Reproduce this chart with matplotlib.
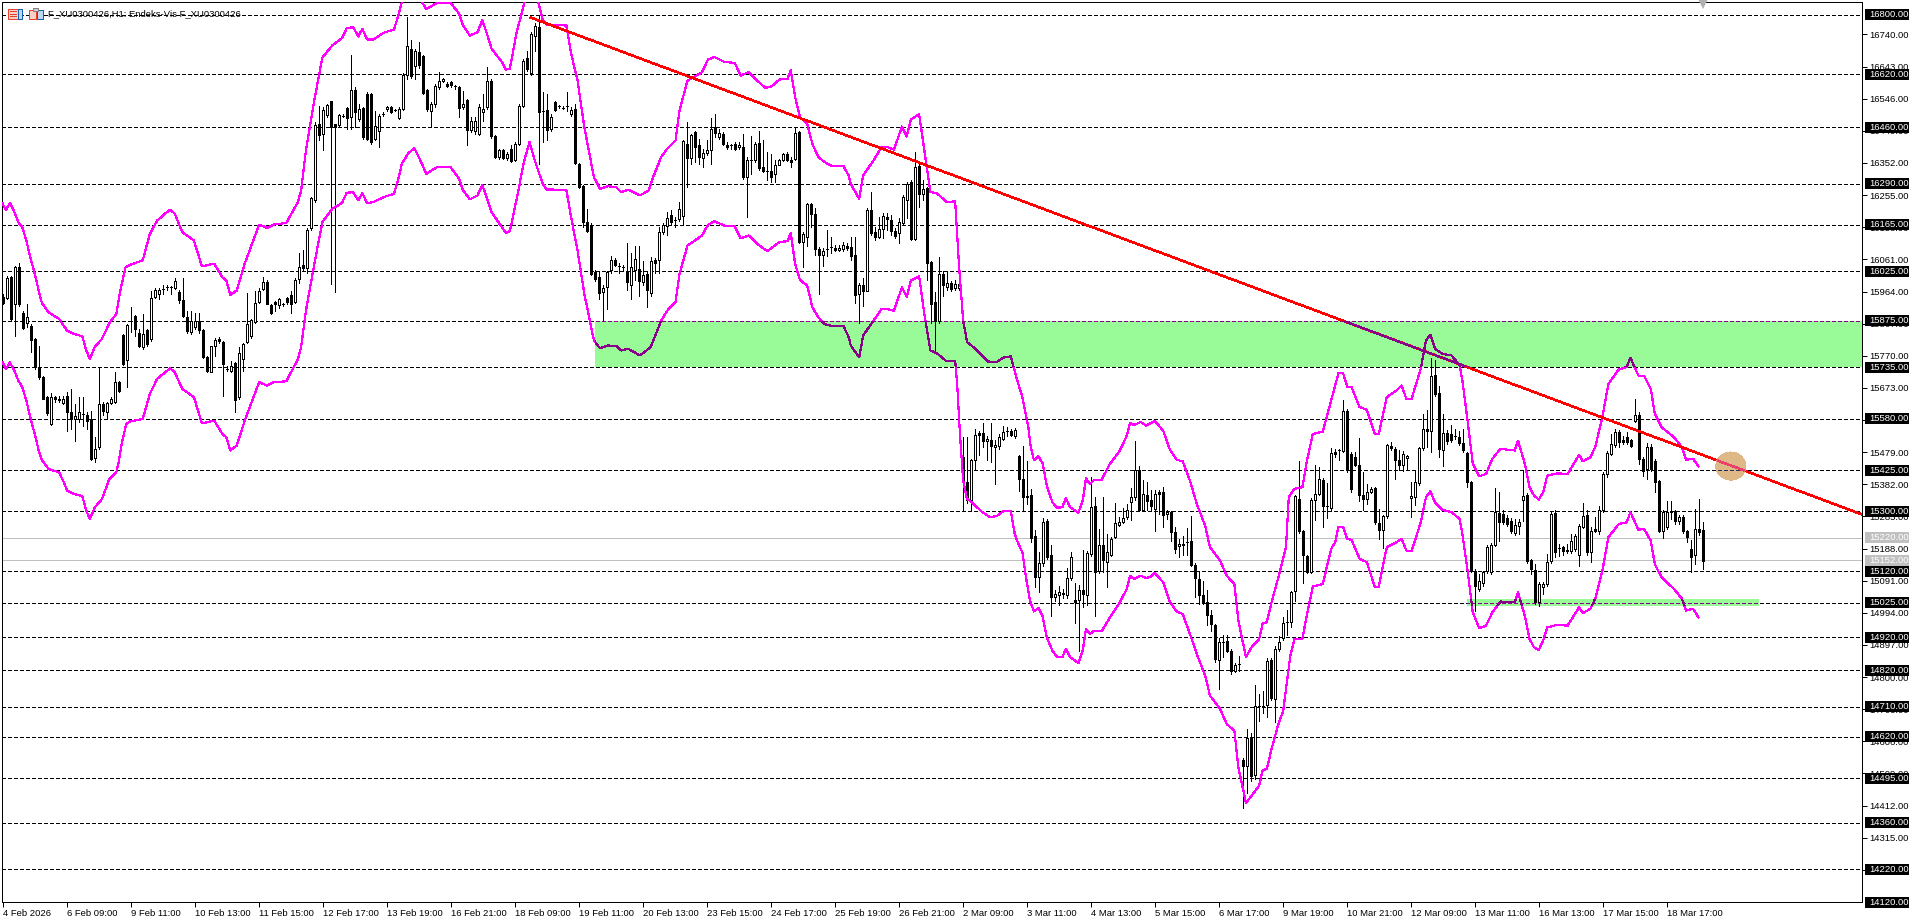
import numpy as np
import matplotlib
matplotlib.use("Agg")
import matplotlib.pyplot as plt
from matplotlib.patches import Rectangle, Ellipse
from matplotlib.transforms import blended_transform_factory

plt.rcParams['font.family'] = ['Liberation Sans', 'DejaVu Sans']

# hourly candles, F_XU0300426 H1
opens = [
    15947,15945,16007,15925,16037,15899,15868,15861,15821,15737,
    15707,15645,15564,15645,15640,15627,15650,15599,15579,15579,
    15594,15591,15579,15461,15494,15625,15601,15628,15630,15692,
    15833,15757,15876,15889,15839,15796,15848,15821,15947,15957,
    15972,15979,15977,15975,15962,15939,15888,15841,15858,15876,
    15848,15767,15721,15799,15821,15813,15730,15725,15747,15647,
    15760,15811,15831,15871,15932,15972,15994,15922,15932,15922,
    15925,15944,15952,15932,16002,16044,16035,16156,16239,16470,
    16440,16496,16538,16470,16467,16495,16519,16491,16571,16485,
    16519,16561,16559,16425,16448,16499,16515,16521,16511,16489,
    16516,16619,16697,16645,16687,16674,16571,16508,16531,16581,
    16598,16591,16596,16583,16581,16521,16541,16452,16448,16438,
    16506,16521,16601,16432,16370,16390,16368,16395,16362,16410,
    16524,16670,16623,16734,16764,16508,16511,16455,16536,16523,
    16519,16523,16499,16516,16350,16281,16173,16166,16022,16007,
    15961,15977,16029,16060,16040,16037,16022,15985,16030,16032,
    15992,16017,15959,16060,16058,16143,16163,16194,16180,16183,
    16193,16410,16368,16445,16405,16368,16382,16390,16460,16430,
    16440,16407,16405,16408,16400,16400,16311,16362,16360,16413,
    16341,16329,16329,16319,16347,16362,16380,16362,16365,16445,
    16113,16130,16227,16198,16093,16073,16093,16098,16096,16088,
    16093,16101,16098,16073,15955,15984,15967,16211,16143,16130,
    16153,16188,16180,16148,16141,16170,16239,16294,16121,16342,
    16259,16276,16052,15932,15876,16017,15979,15989,15974,15975,
    15464,15390,15335,15456,15536,15537,15513,15516,15494,15497,
    15519,15543,15543,15529,15466,15398,15347,15350,15227,15101,
    15145,15272,15169,15041,15049,15054,15048,15098,15033,15033,
    15063,15048,15172,15315,15121,15199,15147,15169,15224,15259,
    15269,15283,15330,15343,15426,15303,15350,15335,15308,15358,
    15360,15293,15298,15239,15196,15201,15208,15212,15139,15096,
    15048,15026,14987,14957,14852,14906,14910,14878,14819,14839,
    14549,14532,14618,14504,14714,14714,14717,14850,14734,14885,
    14918,14965,14965,15059,15338,15240,15165,15118,15336,15353,
    15395,15315,15310,15479,15484,15481,15602,15474,15464,15441,
    15350,15338,15358,15371,15265,15244,15285,15499,15489,15456,
    15441,15461,15340,15345,15385,15491,15549,15544,15713,15658,
    15487,15538,15534,15529,15526,15506,15477,15388,15119,15066,
    15083,15119,15118,15199,15296,15293,15280,15272,15235,15255,
    15335,15350,15152,15123,15026,15073,15081,15150,15295,15190,
    15192,15184,15180,15187,15167,15254,15290,15179,15247,15240,
    15303,15413,15474,15501,15539,15516,15524,15516,15574,15590,
    15459,15428,15496,15452,15391,15242,15252,15298,15300,15270,
    15284,15242,15187,15170,15247,15244]
closes = [
    15929,16005,15880,16037,15925,15853,15886,15818,15737,15705,
    15640,15596,15645,15640,15637,15640,15599,15579,15589,15599,
    15594,15574,15458,15489,15625,15604,15628,15638,15692,15665,
    15745,15864,15874,15851,15799,15836,15806,15945,15969,15969,
    15972,15979,15977,15997,15937,15889,15846,15876,15876,15848,
    15765,15725,15798,15818,15814,15745,15730,15740,15635,15778,
    15806,15866,15878,15930,15967,15994,15927,15899,15927,15942,
    15925,15932,15925,16000,16039,16034,16150,16247,16468,16435,
    16511,16526,16462,16460,16498,16495,16489,16571,16506,16516,
    16430,16425,16415,16465,16494,16499,16521,16506,16511,16516,
    16619,16705,16616,16690,16647,16563,16516,16531,16584,16601,
    16606,16583,16586,16583,16519,16531,16452,16478,16480,16521,
    16516,16601,16432,16370,16390,16368,16380,16358,16408,16524,
    16659,16637,16742,16767,16506,16508,16452,16490,16513,16523,
    16519,16523,16513,16352,16279,16173,16146,16017,16002,15959,
    15975,16022,16058,16043,16040,16037,15992,16037,16062,15997,
    16015,15969,16055,16049,16145,16166,16186,16173,16180,16214,
    16417,16368,16435,16400,16370,16383,16390,16455,16442,16443,
    16408,16400,16405,16393,16405,16311,16362,16362,16408,16336,
    16329,16329,16309,16347,16362,16378,16362,16355,16443,16113,
    16138,16227,16198,16093,16073,16086,16093,16098,16088,16096,
    16103,16096,16070,15952,15984,15965,16211,16141,16130,16153,
    16193,16182,16146,16133,16173,16249,16289,16123,16339,16257,
    16274,16049,15925,15876,16017,15985,15989,15972,15987,15987,
    15388,15335,15454,15531,15531,15512,15519,15497,15501,15524,
    15539,15543,15531,15546,15398,15343,15343,15219,15101,15145,
    15269,15162,15041,15051,15058,15051,15099,15162,15028,15063,
    15051,15174,15313,15116,15199,15152,15177,15217,15265,15269,
    15280,15305,15343,15426,15303,15353,15333,15315,15353,15353,
    15290,15298,15239,15187,15202,15198,15208,15139,15099,15048,
    15026,14987,14960,14855,14905,14906,14880,14819,14836,14839,
    14532,14616,14502,14714,14714,14714,14848,14737,14885,14905,
    14962,14965,15056,15346,15240,15167,15118,15335,15353,15398,
    15316,15315,15477,15472,15484,15603,15426,15368,15441,15350,
    15337,15358,15368,15267,15244,15285,15501,15491,15456,15439,
    15472,15466,15348,15388,15491,15549,15542,15710,15655,15489,
    15537,15512,15516,15529,15506,15484,15388,15121,15076,15089,
    15116,15194,15200,15298,15267,15267,15262,15240,15260,15267,
    15348,15150,15126,15026,15081,15081,15146,15292,15177,15190,
    15182,15180,15212,15227,15257,15287,15177,15242,15242,15303,
    15413,15477,15504,15541,15509,15509,15509,15499,15590,15457,
    15423,15494,15428,15388,15242,15298,15298,15301,15272,15282,
    15240,15222,15162,15247,15237,15150]
highs = [
    15955,16010,16010,16040,16050,15905,15925,15865,15825,15798,
    15710,15650,15658,15650,15650,15650,15660,15670,15625,15647,
    15645,15600,15604,15524,15732,15630,15630,15645,15722,15695,
    15836,15867,15917,15893,15850,15896,15850,15965,15975,15975,
    15985,15985,15982,16005,15968,16005,15905,15906,15900,15900,
    15850,15770,15800,15825,15826,15815,15740,15755,15752,15796,
    15810,15960,15880,15967,15975,16007,16000,15925,15936,15945,
    15928,15948,15965,16005,16081,16090,16155,16250,16475,16524,
    16520,16530,16540,16470,16500,16500,16522,16677,16580,16530,
    16522,16565,16562,16510,16500,16505,16525,16525,16515,16520,
    16625,16793,16722,16695,16717,16678,16575,16535,16590,16627,
    16610,16595,16600,16588,16585,16570,16545,16490,16490,16530,
    16560,16642,16605,16435,16395,16395,16385,16405,16415,16530,
    16665,16690,16748,16775,16798,16565,16560,16500,16540,16527,
    16523,16565,16520,16530,16352,16285,16214,16170,16030,16025,
    15985,16025,16070,16065,16050,16045,16110,16080,16100,16100,
    16057,16025,16068,16065,16158,16170,16205,16210,16190,16234,
    16422,16475,16440,16450,16425,16395,16420,16488,16499,16455,
    16445,16415,16410,16415,16415,16440,16370,16432,16415,16450,
    16420,16385,16380,16360,16365,16382,16385,16370,16460,16448,
    16145,16232,16230,16215,16098,16095,16150,16128,16105,16105,
    16112,16110,16130,16130,15990,16005,16215,16264,16160,16190,
    16200,16200,16195,16155,16185,16255,16295,16300,16385,16350,
    16300,16280,16055,15964,16068,16025,16025,15995,16000,16022,
    15524,15524,15459,15549,15543,15568,15529,15568,15515,15534,
    15559,15554,15550,15552,15470,15499,15451,15368,15244,15179,
    15280,15278,15199,15063,15076,15066,15128,15179,15083,15078,
    15185,15180,15403,15343,15247,15343,15232,15222,15326,15283,
    15311,15321,15371,15514,15436,15395,15388,15365,15365,15365,
    15375,15305,15300,15254,15217,15227,15250,15285,15143,15116,
    15091,15063,15003,14960,14918,14927,14927,14885,14842,14865,
    14555,14643,14631,14777,14749,14759,14858,14857,14893,14923,
    14982,15001,15060,15350,15451,15245,15170,15340,15439,15435,
    15400,15386,15492,15490,15489,15635,15610,15479,15479,15522,
    15418,15383,15375,15375,15308,15290,15505,15509,15495,15484,
    15482,15469,15388,15425,15495,15593,15605,15764,15756,15680,
    15595,15545,15562,15549,15542,15549,15480,15392,15126,15112,
    15120,15198,15205,15371,15358,15305,15290,15280,15277,15277,
    15423,15355,15156,15141,15086,15086,15172,15301,15303,15202,
    15197,15202,15232,15232,15262,15326,15303,15252,15282,15315,
    15418,15482,15534,15549,15545,15529,15539,15520,15640,15600,
    15463,15506,15504,15458,15395,15303,15333,15333,15305,15288,
    15290,15245,15214,15308,15338,15267]
lows = [
    15925,15940,15875,15831,15920,15851,15856,15781,15730,15700,
    15638,15590,15562,15630,15630,15625,15542,15549,15512,15570,
    15559,15549,15455,15448,15490,15590,15579,15625,15628,15660,
    15742,15675,15841,15830,15795,15790,15800,15815,15945,15940,
    15955,15970,15955,15972,15930,15887,15840,15835,15850,15840,
    15762,15722,15720,15770,15810,15648,15725,15720,15599,15640,
    15725,15808,15825,15868,15930,15968,15925,15895,15905,15915,
    15920,15925,15899,15928,15990,16030,16020,16150,16235,16420,
    16390,16490,15987,15962,16460,16490,16455,16455,16460,16480,
    16425,16420,16410,16420,16400,16495,16510,16503,16508,16485,
    16512,16605,16610,16605,16640,16560,16510,16460,16520,16575,
    16595,16580,16580,16575,16490,16515,16405,16445,16440,16435,
    16480,16515,16428,16368,16365,16365,16360,16355,16358,16405,
    16520,16630,16618,16690,16350,16415,16420,16450,16510,16518,
    16515,16510,16495,16350,16275,16160,16143,16015,15995,15940,
    15876,15911,16020,16040,16020,16025,15970,15940,16000,15950,
    15985,15917,15950,16019,16020,16138,16135,16165,16160,16178,
    16165,16279,16350,16355,16350,16340,16375,16348,16430,16425,
    16405,16395,16395,16390,16395,16305,16188,16320,16355,16330,
    16325,16300,16295,16295,16345,16358,16358,16340,16360,16110,
    16037,16100,16160,16075,15957,16040,16070,16080,16085,16085,
    16085,16090,16060,15929,15868,15920,15965,16135,16120,16125,
    16125,16150,16135,16125,16110,16165,16185,16120,16118,16220,
    16240,16000,15870,15781,15870,15950,15970,15965,15970,15970,
    15303,15325,15305,15425,15469,15494,15456,15449,15383,15490,
    15515,15529,15528,15521,15361,15303,15321,15207,15071,15056,
    15135,15155,14985,15031,15019,15039,15040,15094,14962,14878,
    15011,15019,15165,14985,15115,15116,15071,15165,15219,15255,
    15265,15278,15274,15335,15300,15300,15303,15305,15240,15293,
    15252,15277,15210,15174,15162,15167,15167,15135,15041,15021,
    15022,14958,14940,14844,14764,14862,14875,14809,14815,14819,
    14406,14449,14487,14492,14666,14690,14680,14730,14663,14880,
    14912,14927,14952,15029,15235,15083,15113,15113,15274,15350,
    15252,15280,15305,15465,15456,15478,15420,15358,15438,15333,
    15305,15323,15355,15262,15217,15190,15280,15487,15398,15426,
    15423,15428,15284,15318,15380,15486,15495,15479,15650,15464,
    15437,15505,15510,15519,15500,15480,15373,15118,14999,15060,
    15075,15115,15112,15195,15212,15262,15255,15235,15230,15232,
    15272,15145,15111,15022,15016,15051,15075,15145,15162,15164,
    15167,15175,15175,15182,15136,15250,15167,15147,15237,15232,
    15298,15403,15470,15494,15494,15505,15505,15495,15569,15444,
    15408,15398,15422,15358,15238,15220,15248,15277,15262,15262,
    15235,15207,15116,15141,15230,15126]

# envelope bands, read at the corners of the line
upper_x = [0,0.8,1.8,2.9,3.9,4.9,5.9,6.9,8,9,9.8,11.5,14.1,16.1,17.7,19.9,20.9,21.8,23,24.8,
    26.8,28.4,29.4,30.7,31.9,35,36.8,38.6,40.6,41.9,43,44.9,47.8,49.8,52.9,54.9,55.9,56.9,58.5,60.5,
    64.1,66.1,67.7,70.9,73.8,74.6,75.8,77.9,79.9,82.4,84.8,86,87.6,88.9,89.9,91.1,92.7,95.2,97.8,98.8,
    99.8,101.3,102.9,104.4,104.9,105.9,108.5,112,114.1,115.1,116.8,118.7,119.9,121.2,122.2,124.8,125.8,126.8,128.4,130.4,
    131.7,133.8,135,136,140.9,142.1,143.7,145.4,147.8,149.3,151.3,153.4,154.6,156.4,159.3,161.5,162.6,164.6,166.1,168.2,
    169.2,171.2,172.8,174.8,176.3,177.9,180.4,183,184.5,186.5,188.6,190.6,192.2,194.2,196.2,197,198.1,199.3,201.1,202.4,
    203.9,205.4,207.5,210.2,211.5,212,214.1,215.1,217.7,219.7,221.2,222.8,224.8,226,227,229.1,230.4,231.9,233.5,236,
    238.1,239.1,240.1,241.1,243.2,246.2,248.3,250.3,252,253.4,254.9,256.4,257,257.8,258.9,260,261,262.4,263.6,264.9,
    265.8,266.8,268,268.9,270,270.8,271.8,272.8,274.7,276.8,279.3,281,281.8,282.8,284.5,285.8,287,288,290.1,291.8,
    293.5,295,296.8,298.5,300.6,301.8,304.3,306,307.9,308.9,310.8,312.2,314.1,315,316,317.2,318.9,320.8,321.5,322.9,
    324.9,325.9,327.5,330,332.1,333.1,333.9,335.1,336.1,337.2,339.2,341,343,344,346,348.4,349.7,350.9,352.2,354.5,
    355.8,356.9,358.1,359.9,362.2,364.2,364.9,366.2,367.5,369.1,370.8,372.4,374.4,378,378.8,380.5,381.7,382.8,384,385.1,
    386.1,388.7,391.2,394.1,395,396.9,398.1,399.9,401.4,404,406,406.9,408.9,410.3,412,413,414.7,417.8,419.8,420.8,
    422.6,423.9]
upper_y = [16229,16209,16232,16204,16173,16158,16118,16068,16017,15967,15929,15901,15881,15846,15836,15829,15786,15760,15796,15821,
    15871,15896,15967,16037,16045,16058,16138,16178,16199,16211,16199,16143,16118,16040,16048,16007,15997,15954,15967,16048,
    16166,16156,16166,16171,16234,16269,16390,16541,16670,16707,16729,16759,16762,16734,16757,16725,16725,16745,16755,16793,
    16838,16868,16885,16853,16836,16816,16835,16835,16803,16767,16737,16747,16783,16737,16697,16657,16634,16637,16742,16835,
    16898,16843,16783,16770,16767,16682,16601,16460,16309,16274,16282,16279,16264,16271,16254,16269,16309,16370,16395,16420,
    16511,16601,16611,16626,16664,16672,16657,16654,16616,16626,16601,16579,16583,16604,16606,16632,16551,16491,16470,16410,
    16370,16355,16342,16342,16314,16289,16244,16314,16360,16400,16400,16392,16462,16432,16483,16499,16390,16264,16261,16234,
    16236,16037,15876,15811,15791,15753,15750,15765,15768,15705,15645,15554,15494,15454,15467,15444,15378,15328,15311,15313,
    15340,15313,15303,15296,15333,15400,15383,15395,15395,15444,15484,15529,15567,15561,15570,15559,15567,15573,15544,15486,
    15456,15451,15393,15323,15257,15192,15152,15106,15081,14970,14860,14890,14915,14963,14965,15026,15101,15192,15343,15368,
    15373,15444,15534,15541,15635,15680,15717,15717,15677,15675,15615,15607,15534,15534,15645,15665,15680,15640,15640,15731,
    15816,15833,15791,15776,15771,15741,15695,15574,15444,15406,15413,15459,15489,15484,15514,15444,15373,15348,15336,15358,
    15408,15415,15413,15471,15451,15464,15494,15585,15685,15729,15736,15764,15710,15710,15670,15595,15554,15524,15494,15456,
    15459,15436]
lower_x = [0,0.8,1.8,2.9,3.9,4.9,5.9,6.9,8,9,9.8,11.5,14.1,15.1,16.1,17.7,19.9,20.9,21.8,23,
    24.8,26.6,28.4,28.9,29.9,30.9,31.9,35,36.8,38.6,40.6,41.9,43,44.9,47.8,49.8,52.9,54.9,55.9,56.9,
    58.5,60.5,64.1,66.1,67.7,70.9,73.8,74.6,75.8,77.9,79.9,82.4,84.8,86,87.6,88.9,89.9,91.1,92.7,95.2,
    97.8,98.8,99.8,101.3,102.9,104.4,105.9,108.5,112,114.1,115.1,116.8,118.7,119.9,121.2,122.2,124.8,125.8,126.8,128.4,
    130.4,131.7,133,135,136,140.9,142.1,143.7,145.4,147.8,149.3,151.3,153.4,154.6,156.4,159.3,162,164.6,166.1,168.2,
    169.2,171.2,172.8,174.8,176.3,177.9,180.4,183,184.5,186.5,188.6,191.1,194.2,196.2,197,198.1,199.3,201.1,202.4,203.9,
    205.4,207.5,210.2,211.5,212,214.1,215.1,217.7,219.7,221.2,222.8,224.8,226,227,229.1,230.4,231.9,233.5,236,238.1,
    238.6,239.3,240.1,241,243.1,244.7,246.8,248.5,250.1,252,253,253.9,254.9,255.8,256.8,257.8,258.9,260,261,262.4,
    263.6,264.9,265.8,266.8,268,268.9,270,270.8,271.8,272.8,274.7,276.8,279.3,281,281.8,282.8,284.5,285.8,287,288,
    290.1,291.8,293.5,295,296.8,298.5,300.6,301.8,304.3,306,307.9,308.9,310.8,312.2,314.1,315,316,317.2,318.9,320.1,
    321.9,322.9,324.9,325.9,327.5,330,332.1,333.1,333.9,335.1,336.1,337.2,339.2,341,343,344,346,348.4,349.7,350.9,
    352.2,354.5,355.8,356.9,358.1,359.9,362.2,364.2,364.9,366.2,367.5,369.1,370.8,372.4,374.4,378,378.8,380.5,381.7,382.8,
    384,385.1,386.1,388.7,391.2,394.1,395,396.9,398.1,399.9,401.4,404,406,406.9,408.9,410.3,412,413,414.7,417.8,
    419.8,420.8,422.6,423.9]
lower_y = [15750,15730,15750,15725,15695,15675,15635,15584,15534,15484,15455,15428,15418,15393,15363,15353,15346,15302,15277,15312,
    15337,15396,15418,15443,15514,15564,15572,15579,15655,15700,15720,15732,15720,15670,15645,15566,15574,15534,15524,15484,
    15499,15574,15690,15680,15690,15693,15760,15796,15906,16047,16173,16214,16231,16262,16264,16239,16261,16231,16234,16249,
    16259,16299,16350,16380,16397,16360,16319,16339,16339,16304,16269,16242,16254,16286,16239,16204,16158,16141,16146,16239,
    16360,16415,16360,16289,16272,16271,16188,16088,15957,15816,15793,15801,15799,15786,15791,15771,15796,15876,15906,15932,
    16017,16103,16116,16133,16165,16176,16163,16161,16125,16133,16108,16086,16113,16116,16140,16047,15999,15982,15917,15886,
    15866,15859,15859,15826,15801,15765,15831,15876,15911,15911,15906,15977,15947,15997,16010,15896,15786,15778,15753,15755,
    15685,15534,15393,15340,15318,15300,15283,15286,15300,15301,15232,15202,15177,15101,15031,14998,15009,14982,14920,14880,
    14860,14860,14885,14860,14850,14842,14880,14945,14930,14940,14938,14980,15026,15066,15106,15096,15106,15099,15103,15114,
    15086,15026,14998,14990,14930,14870,14804,14744,14704,14658,14638,14527,14420,14442,14472,14520,14522,14583,14658,14698,
    14865,14915,14915,14980,15073,15081,15187,15207,15252,15252,15217,15214,15157,15147,15073,15073,15192,15207,15217,15182,
    15180,15267,15343,15361,15326,15305,15298,15277,15232,15121,14995,14948,14955,14995,15028,15026,15056,14985,14915,14890,
    14882,14910,14950,14958,14955,15011,14993,15006,15036,15121,15222,15262,15267,15298,15245,15247,15212,15141,15101,15066,
    15036,15001,15006,14980]

dash_levels = [16800,16620,16460,16290,16165,16025,15875,15735,15580,15425,15300,15120,15025,14920,14820,14710,14620,14495,14360,14220]
grey_levels = [15220,15152]
bottom_level = 14120
scale_ticks = np.arange(14218, 16741, 97)

date_labels = ['4 Feb 2026','6 Feb 09:00','9 Feb 11:00','10 Feb 13:00','11 Feb 15:00','12 Feb 17:00','13 Feb 19:00',
    '16 Feb 21:00','18 Feb 09:00','19 Feb 11:00','20 Feb 13:00','23 Feb 15:00','24 Feb 17:00','25 Feb 19:00',
    '26 Feb 21:00','2 Mar 09:00','3 Mar 11:00','4 Mar 13:00','5 Mar 15:00','6 Mar 17:00','9 Mar 19:00',
    '10 Mar 21:00','12 Mar 09:00','13 Mar 11:00','16 Mar 13:00','17 Mar 15:00','18 Mar 17:00']
date_bars = np.arange(len(date_labels))*16

trend_x = [132, 465]
trend_y = [16791, 15290]
zone_big = (148, 15735, 330, 140)
zone_small = (366, 15014, 73, 22)
circle_x = 432
circle_y = 15437
circle_w = 7.5
circle_h = 85
shift_x = 425
shift_y = 16831

MAGENTA = '#FF00FF'
PURPLE = '#8B008B'
GREEN = '#98FB98'
PX = 0.72
BAND_LW = 0.85
TREND_LW = 1.1
DASH = (0, (3, 2.5))
LABEL_SIZE = 6.8

opens, closes, highs, lows = map(np.array, (opens, closes, highs, lows))
bars = np.arange(len(opens))

fig = plt.figure(figsize=(19.2, 9.23), dpi=100)
ax = fig.add_axes([2/1920, 1-902.3/923, 1860/1920, 900.3/923])
ax.set_xlim(-0.175, 464.8)
ax.set_ylim(14120, 16838)

# zones go first, candles and lines sit on them
patches = []
for z in (zone_big, zone_small):
    p = Rectangle((z[0], z[1]), z[2], z[3], fc=GREEN, ec='none', zorder=1)
    ax.add_patch(p)
    patches.append(p)

for lv in dash_levels:
    ax.axhline(lv, color='black', lw=PX, ls=DASH, zorder=2, antialiased=False)
for lv in grey_levels:
    ax.axhline(lv, color='#C0C0C0', lw=PX, zorder=2, antialiased=False)

# candles
ax.vlines(bars, lows, highs, color='black', lw=PX, zorder=3, antialiased=False)
up = closes >= opens
ax.bar(bars[up], (closes-opens)[up], bottom=opens[up], width=0.5, fc='white', ec='black',
       lw=PX, zorder=3.1, antialiased=False)
ax.bar(bars[~up], (closes-opens)[~up], bottom=opens[~up], width=0.5, fc='black', ec='black',
       lw=PX, zorder=3.1, antialiased=False)

ax.plot(upper_x, upper_y, color=MAGENTA, lw=BAND_LW, zorder=4, antialiased=False)
ax.plot(lower_x, lower_y, color=MAGENTA, lw=BAND_LW, zorder=4, antialiased=False)
ax.plot(trend_x, trend_y, color='red', lw=TREND_LW, zorder=5, antialiased=False)

# lines look purple where they cross the green zones
for p in patches:
    for xs, ys in ((upper_x, upper_y), (lower_x, lower_y), (trend_x, trend_y)):
        ln, = ax.plot(xs, ys, color=PURPLE, lw=BAND_LW, zorder=6, antialiased=False)
        ln.set_clip_path(p)
    for lv in dash_levels:
        ln = ax.axhline(lv, color=PURPLE, lw=PX, ls=DASH, zorder=2.5, antialiased=False)
        ln.set_clip_path(p)

# tan marker, the line and grid change colour under it
spot = Ellipse((circle_x, circle_y), circle_w, circle_h, fc='#DEB887', ec='none', zorder=7, antialiased=False)
ax.add_patch(spot)
ln, = ax.plot(trend_x, trend_y, color='#E8406A', lw=TREND_LW, zorder=8, antialiased=False)
ln.set_clip_path(spot)
ln = ax.axhline(15425, color='#203060', lw=PX, ls=DASH, zorder=7.5, antialiased=False)
ln.set_clip_path(spot)

# chart shift mark at the top edge
ax.plot([shift_x], [shift_y], marker='v', ms=6.5, color='#B0B0B0', mew=0, zorder=8, clip_on=False)

# price scale
ax.yaxis.tick_right()
ax.set_yticks(scale_ticks)
ax.set_yticklabels(['%.2f' % v for v in scale_ticks])
ax.set_xticks(date_bars)
ax.set_xticklabels(date_labels, ha='left')
ax.tick_params(axis='both', length=3.6, width=PX, labelsize=LABEL_SIZE, color='black', pad=1.5)
for sp in ax.spines.values():
    sp.set_linewidth(PX)

# boxes for the level labels, 44 px wide and 11 px tall
tr = blended_transform_factory(ax.transAxes, ax.transData)
box_h = 11/0.3312
for levels, fc, zo in ((grey_levels, '#C0C0C0', 9), (dash_levels + [bottom_level], 'black', 10)):
    for lv in levels:
        ax.add_patch(Rectangle((1+3/1860, lv-box_h/2), 44/1860, box_h, transform=tr, fc=fc, ec='none',
                               zorder=zo, clip_on=False))
        ax.text(1+7/1860, lv, '%.2f' % lv, transform=tr, color='white', fontsize=LABEL_SIZE, va='center',
                ha='left', zorder=zo+0.5, clip_on=False)

# header, in pixel space
ov = fig.add_axes([0, 0, 1, 1], facecolor='none')
ov.set_xlim(0, 1920)
ov.set_ylim(923, 0)
ov.axis('off')
ov.text(48, 14, 'F_XU0300426,H1: Endeks-Vis F_XU0300426', fontsize=6.8, color='black', va='center', ha='left')
ov.add_patch(Rectangle((7.5, 8.5), 14, 10, fc='#F8D0C8', ec='#E8402C', lw=PX))
ov.add_patch(Rectangle((18, 8.5), 4, 10, fc='#BFD8F0', ec='#1060B0', lw=PX))
for yy in (11, 13.5, 16):
    ov.plot([9.5, 16], [yy, yy], color='#E8402C', lw=PX)
ov.add_patch(Rectangle((28.5, 10), 7, 9, fc='#F8D0C8', ec='#E8402C', lw=PX))
ov.add_patch(Rectangle((37, 10), 6, 9, fc='#BFD8F0', ec='#1060B0', lw=PX))
ov.add_patch(Rectangle((33, 8), 5, 3, fc='#D0D0D0', ec='#808080', lw=PX))

fig.savefig('out.png', dpi=100)
